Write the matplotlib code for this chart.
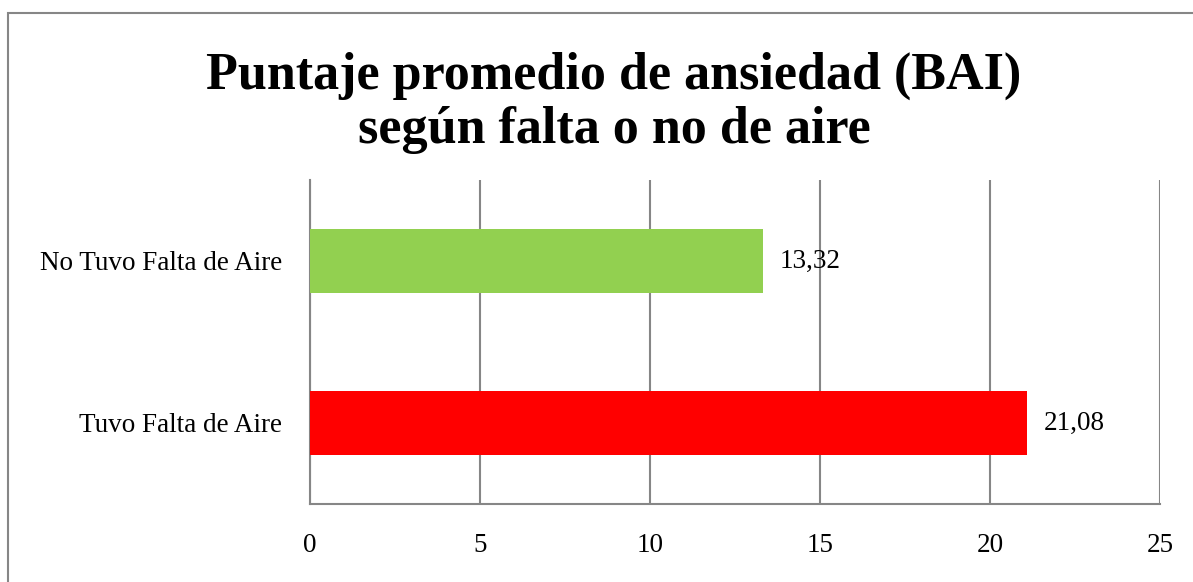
import matplotlib.pyplot as plt
from matplotlib.patches import Rectangle

categories = ['Tuvo Falta de Aire', 'No Tuvo Falta de Aire']
values = [21.08, 13.32]
colors = ['#FF0000', '#92D050']
xticks = [0, 5, 10, 15, 20, 25]

plt.rcParams['font.family'] = ['Liberation Serif', 'DejaVu Serif']

W, H = 1193, 582
fig = plt.figure(figsize=(W / 100, H / 100), dpi=100)
ax = fig.add_axes([310 / W, 1 - 504 / H, (1160 - 310) / W, (504 - 180) / H])

ax.barh(range(len(categories)), values, height=0.39, color=colors, zorder=3)
for i, v in enumerate(values):
    ax.text(v + 0.5, i, f'{v:.2f}'.replace('.', ','), va='center', ha='left',
            fontsize=19.5, zorder=4)

ax.set_xlim(0, 25)
ax.set_ylim(-0.5, 1.5)
ax.set_xticks(xticks)
ax.set_xticklabels([str(t) for t in xticks], fontsize=19.5)
ax.set_yticks(range(len(categories)))
ax.set_yticklabels(categories, fontsize=19.5)
ax.tick_params(axis='x', length=0, pad=21)
ax.tick_params(axis='y', length=0, pad=20)
ax.xaxis.grid(True, color='#868686', linewidth=1.5)
for s in ['top', 'right']:
    ax.spines[s].set_visible(False)
for s in ['left', 'bottom']:
    ax.spines[s].set_color('#868686')
    ax.spines[s].set_linewidth(1.5)

fig.text(614 / W, 1 - 103 / H, 'Puntaje promedio de ansiedad (BAI)\nsegún falta o no de aire',
         ha='center', va='center', fontsize=37.5, fontweight='bold', linespacing=1.15)

fig.patches.append(Rectangle((8 / W, -0.1), 1.2, 1 - 13 / H + 0.1, transform=fig.transFigure,
                             fill=False, edgecolor='#868686', linewidth=1.5))

fig.savefig('out.png', dpi=100)
